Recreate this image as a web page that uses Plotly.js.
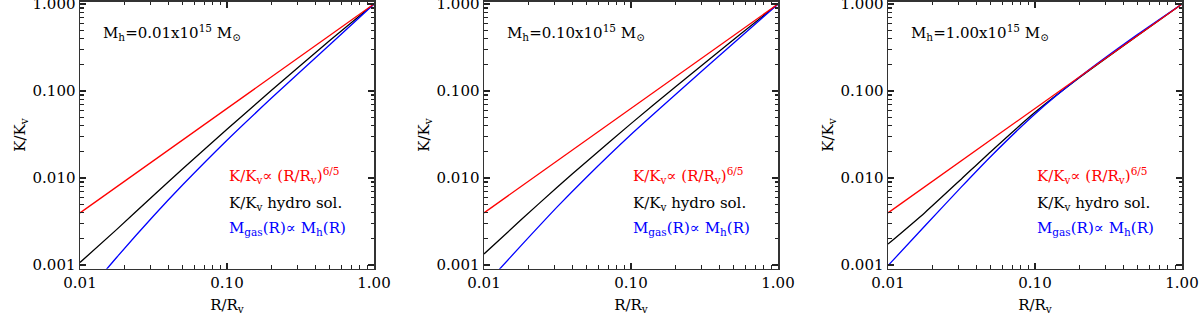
<!DOCTYPE html>
<html>
<head>
<meta charset="utf-8">
<script src="https://cdn.plot.ly/plotly-3.0.1.min.js"></script>
<style>html,body{margin:0;padding:0;background:#fff;}#chart{width:1200px;height:318px;}</style>
</head>
<body>
<div id="chart"></div>
<script>
// ---- data ----
const R_grid = [0.01, 0.0178, 0.0316, 0.05, 0.1, 0.2, 0.5, 1.0];

const K_hydro_p1 = [0.00107, 0.00257, 0.00631, 0.0128, 0.0363, 0.1014, 0.380, 1.0];
const K_mgas_p1  = [0.000389, 0.00123, 0.00366, 0.00836, 0.0272, 0.0824, 0.341, 1.0];

const K_hydro_p2 = [0.00134, 0.00329, 0.00789, 0.0155, 0.0422, 0.1112, 0.390, 1.0];
const K_mgas_p2  = [0.000573, 0.00166, 0.00469, 0.0103, 0.0317, 0.0908, 0.356, 1.0];

const K_hydro_p3 = [0.00174, 0.00400, 0.00977, 0.0201, 0.0570, 0.1422, 0.4355, 1.0];
const K_mgas_p3  = [0.000984, 0.00281, 0.00791, 0.0177, 0.0545, 0.1436, 0.4477, 1.0];

const R_pow = [0.01, 0.1, 1.0];
const K_pow = [0.00398, 0.0631, 1.0];

const xTickVals = [0.01, 0.1, 1.0];
const xTickText = ['0.01', '0.10', '1.00'];
const yTickVals = [0.001, 0.01, 0.1, 1.0];
const yTickText = ['0.001', '0.010', '0.100', '1.000'];

const panelLabels = [
  'M<sub>h</sub>=0.01x10<sup>15</sup> M<sub>⊙</sub>',
  'M<sub>h</sub>=0.10x10<sup>15</sup> M<sub>⊙</sub>',
  'M<sub>h</sub>=1.00x10<sup>15</sup> M<sub>⊙</sub>'
];
const legendTexts = [
  'K/K<sub>v</sub>∝ (R/R<sub>v</sub>)<sup>6/5</sup>',
  'K/K<sub>v</sub> hydro sol.',
  'M<sub>gas</sub>(R)∝ M<sub>h</sub>(R)'
];
const xTitle = 'R/R<sub>v</sub>';
const yTitle = 'K/K<sub>v</sub>';

// ---- build ----
const FONT = 'DejaVu Serif';
const hydro = [K_hydro_p1, K_hydro_p2, K_hydro_p3];
const mgas = [K_mgas_p1, K_mgas_p2, K_mgas_p3];
const W = 1200, H = 318;
const lefts = [80, 484, 888];
const pw = 294;
const yTopPx = 1.5, yBotPx = 268.7;
const XR = [-2, 0], YR = [-3.042, 0.029];

function minorTicks(lo, hi) {
  const out = [];
  for (let e = lo; e < hi; e++) for (let m = 2; m <= 9; m++) out.push(m * Math.pow(10, e));
  return out;
}
const xMinor = minorTicks(-2, 0);
const yMinor = minorTicks(-4, 0).filter(v => v > 0.00092);

const traces = [];
const layout = {
  width: W, height: H,
  margin: {l: 0, r: 0, t: 0, b: 0},
  paper_bgcolor: '#fff', plot_bgcolor: 'rgba(0,0,0,0)',
  showlegend: false,
  font: {family: FONT, size: 15, color: '#000'},
  annotations: []
};

for (let i = 0; i < 3; i++) {
  const sx = i === 0 ? '' : String(i + 1);
  const xa = 'x' + sx, ya = 'y' + sx;
  const ln = (c) => ({color: c, width: 1.3, shape: 'spline', smoothing: 0.6});
  traces.push({x: R_grid, y: hydro[i], xaxis: xa, yaxis: ya, mode: 'lines', line: ln('#000')});
  traces.push({x: R_grid, y: mgas[i], xaxis: xa, yaxis: ya, mode: 'lines', line: ln('#0000ff')});
  traces.push({x: R_pow, y: K_pow, xaxis: xa, yaxis: ya, mode: 'lines', line: {color: '#ff0000', width: 1.3}});

  const xdom = [lefts[i] / W, (lefts[i] + pw) / W];
  const ydom = [(H - yBotPx) / H, (H - yTopPx) / H];
  const common = {
    showgrid: false, zeroline: false, showline: true, linecolor: '#333', linewidth: 1.5,
    mirror: 'allticks', ticks: 'inside', ticklen: 6, tickwidth: 1.2, tickcolor: '#222',
    tickfont: {family: FONT, size: 15, color: '#000'},
    ticklabeloverflow: 'allow',
    fixedrange: true
  };
  layout['xaxis' + sx] = Object.assign({}, common, {
    type: 'log', range: XR, anchor: ya, domain: xdom,
    tickmode: 'array', tickvals: xTickVals, ticktext: xTickText,
    minor: {tickmode: 'array', tickvals: xMinor, ticks: 'inside', ticklen: 3.5, tickwidth: 1.2, tickcolor: '#222'},
    title: {text: xTitle, font: {family: FONT, size: 15, color: '#000'}, standoff: 8}
  });
  layout['yaxis' + sx] = Object.assign({}, common, {
    type: 'log', range: YR, anchor: xa, domain: ydom,
    tickmode: 'array', tickvals: yTickVals, ticktext: yTickText,
    minor: {tickmode: 'array', tickvals: yMinor, ticks: 'inside', ticklen: 3.5, tickwidth: 1.2, tickcolor: '#222'},
    title: {text: yTitle, font: {family: FONT, size: 15, color: '#000'}, standoff: 3}
  });

  layout.annotations.push({
    xref: xa + ' domain', yref: ya + ' domain', x: 0.07, y: 0.885,
    xanchor: 'left', yanchor: 'middle', showarrow: false,
    text: panelLabels[i], font: {family: FONT, size: 15, color: '#000'}
  });
  const cols = ['#ff0000', '#000000', '#0000ff'];
  const ys = [0.35, 0.245, 0.15];
  for (let k = 0; k < 3; k++) {
    layout.annotations.push({
      xref: xa + ' domain', yref: ya + ' domain', x: 0.5, y: ys[k],
      xanchor: 'left', yanchor: 'middle', showarrow: false,
      text: legendTexts[k], font: {family: FONT, size: 15, color: cols[k]}
    });
  }
}

Plotly.newPlot('chart', traces, layout, {staticPlot: true, displayModeBar: false});
</script>
</body>
</html>
